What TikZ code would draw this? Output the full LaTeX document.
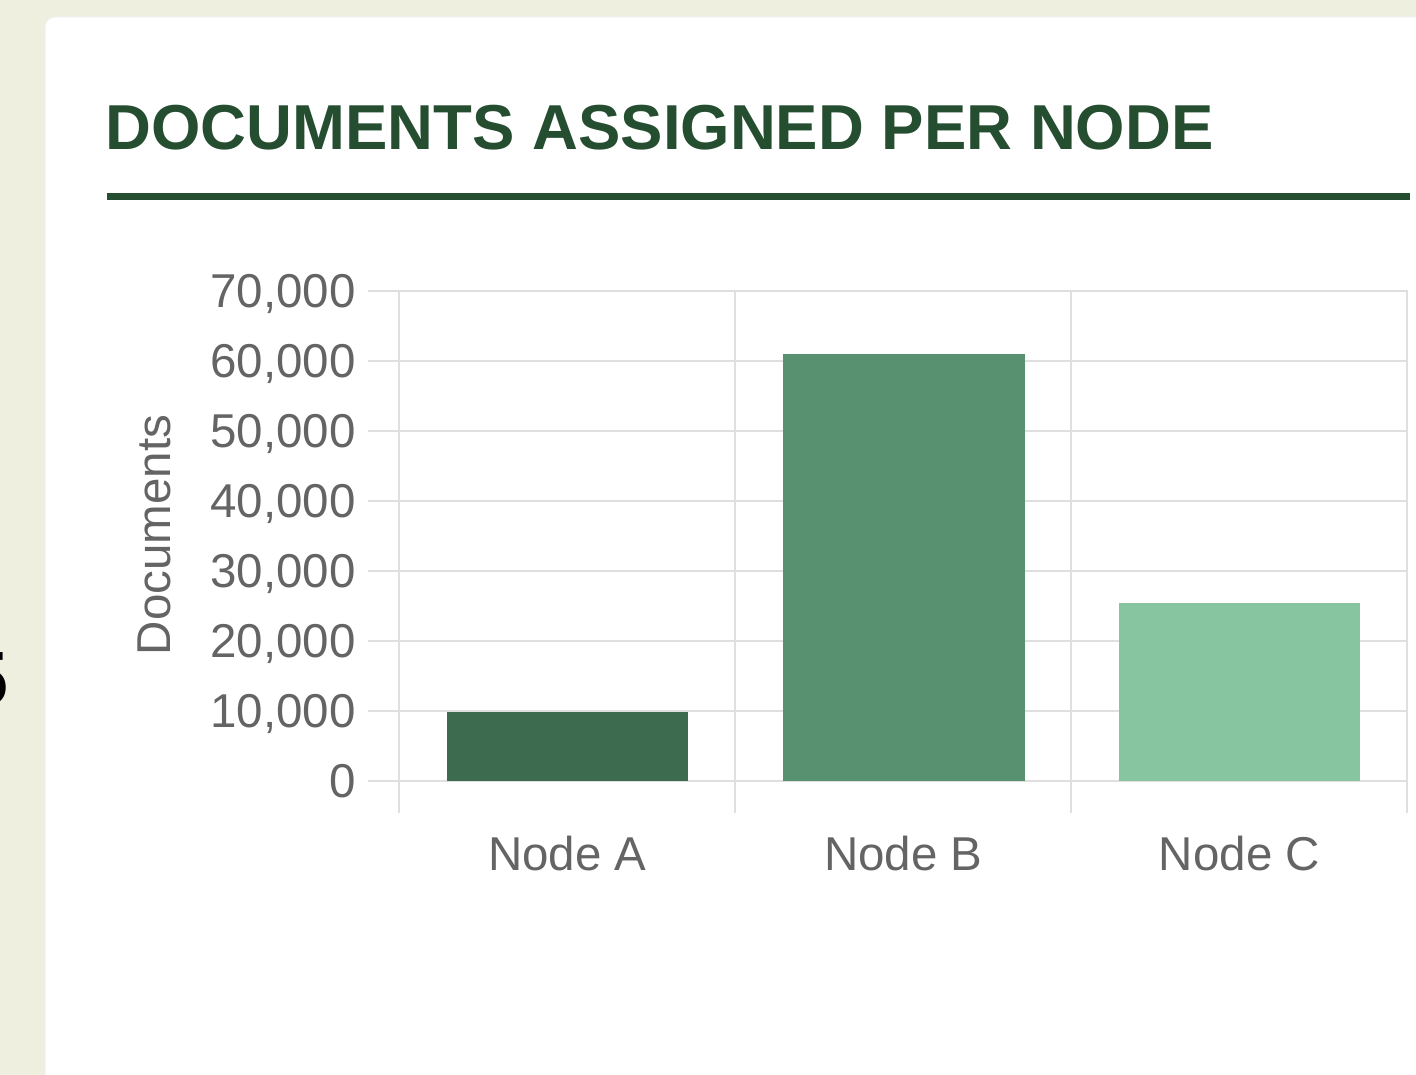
\documentclass[tikz,border=0pt]{standalone}
\usepackage{fontspec}
\setmainfont{Liberation Sans}
\usetikzlibrary{positioning}
\definecolor{cream}{RGB}{239,239,223}
\definecolor{titlegreen}{RGB}{37,78,49}
\definecolor{gridgray}{RGB}{223,223,223}
\definecolor{labelgray}{RGB}{100,100,100}
\definecolor{barA}{RGB}{61,107,80}
\definecolor{barB}{RGB}{88,145,112}
\definecolor{barC}{RGB}{135,196,160}
\newcommand{\docval}[1]{\ifnum#1=0 0\else#10,000\fi}

\begin{document}
\begin{tikzpicture}[x=1pt,y=-1pt,
  grid/.style={draw=gridgray,line width=2pt},
  axislabel/.style={text=labelgray,inner sep=0pt,font=\fontsize{47.5}{50}\selectfont}]
\useasboundingbox (0,0) rectangle (1416,1075);
\fill[cream] (0,0) rectangle (1416,1075);
\filldraw[fill=white,draw=black!6,line width=1pt,rounded corners=10pt] (45,17) rectangle (1460,1110);
\node[anchor=base east,inner sep=0pt,font=\bfseries\fontsize{77}{77}\selectfont] (cut) at (8.5,705) {5};

\node[anchor=base west,inner sep=0pt,text=titlegreen,font=\bfseries\fontsize{63.5}{64}\selectfont] (title) at (105.5,150) {DOCUMENTS ASSIGNED PER NODE};
\draw[titlegreen,line width=7pt] (107,196.5) -- (1410,196.5);

% grid and value axis
\foreach \v in {0,...,7} {
  \pgfmathsetmacro\yy{780.5-69.97*\v}
  \draw[grid] (368,\yy) -- (1407,\yy);
  \node[axislabel,anchor=base east] (ylab\v) at (356,\yy+16.5) {\docval{\v}};
}
\foreach \xx in {399,735,1071,1407}
  \draw[grid] (\xx,290.5) -- (\xx,813);
\node[axislabel,rotate=90,anchor=base] (ytitle) at (170,535) {Documents};

% bars
\fill[barA] (447,780.5) rectangle (688,712);
\fill[barB] (783,780.5) rectangle (1025,353.5);
\fill[barC] (1119,780.5) rectangle (1360,602.5);

\node[axislabel,anchor=base] (xlabA) at (567.5,870) {Node A};
\node[axislabel,anchor=base] (xlabB) at (903.5,870) {Node B};
\node[axislabel,anchor=base] (xlabC) at (1239.5,870) {Node C};
\end{tikzpicture}
\end{document}
